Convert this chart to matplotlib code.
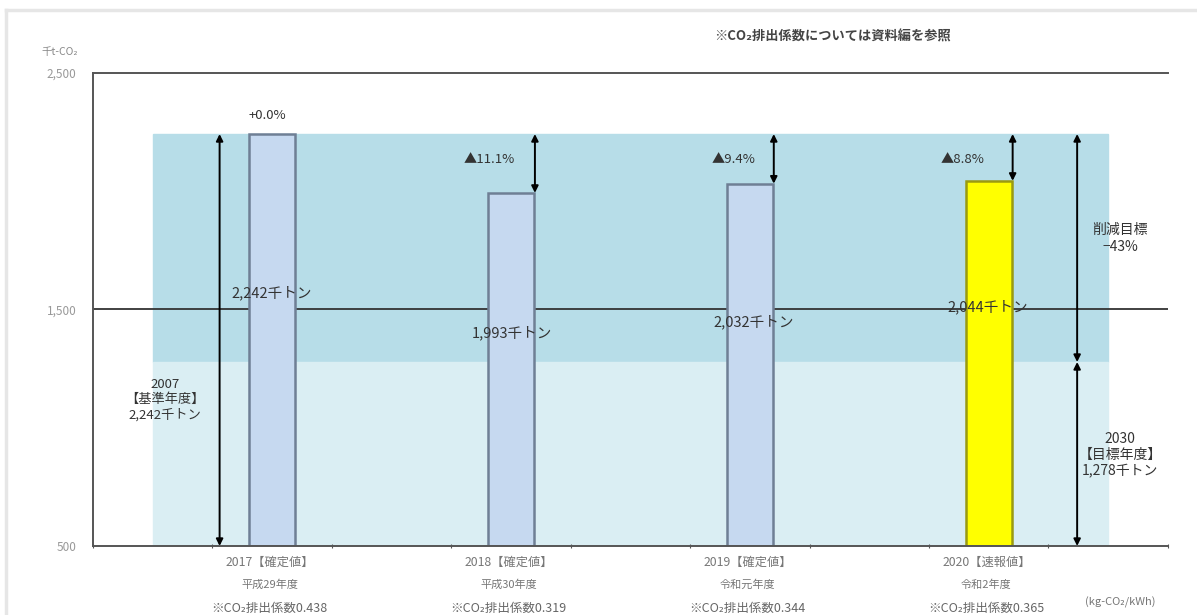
import matplotlib.pyplot as plt
from matplotlib.lines import Line2D

plt.rcParams['font.family'] = ['Noto Sans CJK JP', 'DejaVu Sans']

# 排出量（千t-CO2）
base_year_value = 2242
target_value = 1278
years = ['2017', '2018', '2019', '2020']
status = ['【確定値】', '【確定値】', '【確定値】', '【速報値】']
era_names = ['平成29年度', '平成30年度', '令和元年度', '令和2年度']
factors = ['0.438', '0.319', '0.344', '0.365']
emissions = [2242, 1993, 2032, 2044]
change_labels = ['+0.0%', '▲11.1%', '▲9.4%', '▲8.8%']
value_labels = ['2,242千トン', '1,993千トン', '2,032千トン', '2,044千トン']

bar_x = [1.5, 3.5, 5.5, 7.5]
bar_colors = ['#c6d9f0', '#c6d9f0', '#c6d9f0', '#ffff00']
bar_edges = ['#6f7f95', '#6f7f95', '#6f7f95', '#9a9a10']

fig = plt.figure(figsize=(11.97, 6.15), dpi=100)
ax = fig.add_axes([0.0777, 0.1122, 0.898, 0.7691])
ax.set_xlim(0, 9)
ax.set_ylim(500, 2500)

# background bands: reduction target zone and remaining zone
ax.axhspan(target_value, base_year_value, xmin=0.5 / 9, xmax=8.5 / 9,
           color='#b7dde8', zorder=0)
ax.axhspan(500, target_value, xmin=0.5 / 9, xmax=8.5 / 9,
           color='#daeef3', zorder=0)

# horizontal grid lines
ax.axhline(1500, color='#333333', lw=1.3, zorder=0.5)

ax.bar(bar_x, [v - 500 for v in emissions], bottom=500, width=0.385,
       color=bar_colors, edgecolor=bar_edges, linewidth=1.8, zorder=2)

arrow = dict(arrowstyle='<|-|>', color='black', lw=1.4, mutation_scale=10,
             shrinkA=0, shrinkB=0)

# base-year arrow
ax.annotate('', xy=(1.06, 500), xytext=(1.06, base_year_value),
            arrowprops=arrow, zorder=3)
# reduction arrows next to each bar
for x, v in zip(bar_x[1:], emissions[1:]):
    ax.annotate('', xy=(x + 0.2, v), xytext=(x + 0.2, base_year_value),
                arrowprops=arrow, zorder=3)
# target arrows on the right
ax.annotate('', xy=(8.24, target_value), xytext=(8.24, base_year_value),
            arrowprops=arrow, zorder=3)
ax.annotate('', xy=(8.24, 500), xytext=(8.24, target_value),
            arrowprops=arrow, zorder=3)

txt = '#333333'
change_pos = [(1.46, 2320), (3.32, 2135), (5.36, 2135), (7.28, 2135)]
for (x, y), lab in zip(change_pos, change_labels):
    ax.text(x, y, lab, ha='center', va='center', fontsize=9.5, color=txt, zorder=4)

value_pos = [(1.5, 1570), (3.51, 1400), (5.53, 1447), (7.49, 1511)]
for (x, y), lab in zip(value_pos, value_labels):
    ax.text(x, y, lab, ha='center', va='center', fontsize=10.5, color=txt, zorder=4)

ax.text(0.6, 1117, '2007\n【基準年度】\n2,242千トン', ha='center', va='center',
        fontsize=9.5, color=txt, linespacing=1.2)
ax.text(8.6, 1800, '削減目標\n−43%', ha='center', va='center',
        fontsize=10, color=txt, linespacing=1.3)
ax.text(8.6, 885, '2030\n【目標年度】\n1,278千トン', ha='center', va='center',
        fontsize=10, color=txt, linespacing=1.2)

# category labels under the axis
xt = ax.get_xaxis_transform()
for x, yr, st, era, f in zip(bar_x, years, status, era_names, factors):
    ax.text(x - 0.02, -0.034, f'{yr}{st}', transform=xt, ha='center', va='center',
            fontsize=8.8, color='#777777')
    ax.text(x - 0.02, -0.082, era, transform=xt, ha='center', va='center',
            fontsize=8, color='#777777')
    ax.text(x - 0.02, -0.131, f'※CO₂排出係数{f}', transform=xt, ha='center',
            va='center', fontsize=9, color='#666666')

fig.text(1120 / 1197, 13 / 615, '(kg-CO₂/kWh)', ha='center', va='center',
         fontsize=8, color='#777777')
fig.text(832 / 1197, 578 / 615, '※CO₂排出係数については資料編を参照',
         ha='center', va='center', fontsize=9.5, color='#444444', fontweight='bold')
fig.text(60 / 1197, 563 / 615, '千t-CO₂', ha='center', va='center',
         fontsize=7.5, color='#888888')

ax.set_yticks([500, 1500, 2500])
ax.set_yticklabels(['500', '1,500', '2,500'], fontsize=8.5, color='#999999')
ax.tick_params(axis='y', length=0, pad=12)
ax.set_xticks(range(10))
ax.set_xticklabels([])
ax.tick_params(axis='x', length=3, direction='inout', color='#555555')

for s in ['left', 'bottom', 'top']:
    ax.spines[s].set_color('#555555')
    ax.spines[s].set_linewidth(1.4)
ax.spines['right'].set_visible(False)

# light frame around the figure
fig.add_artist(Line2D([6 / 1197, 6 / 1197], [0, 605 / 615], color='#e6e6e6', lw=2.5))
fig.add_artist(Line2D([6 / 1197, 1], [605 / 615, 605 / 615], color='#e6e6e6', lw=2.5))

fig.savefig('out.png', dpi=100)
